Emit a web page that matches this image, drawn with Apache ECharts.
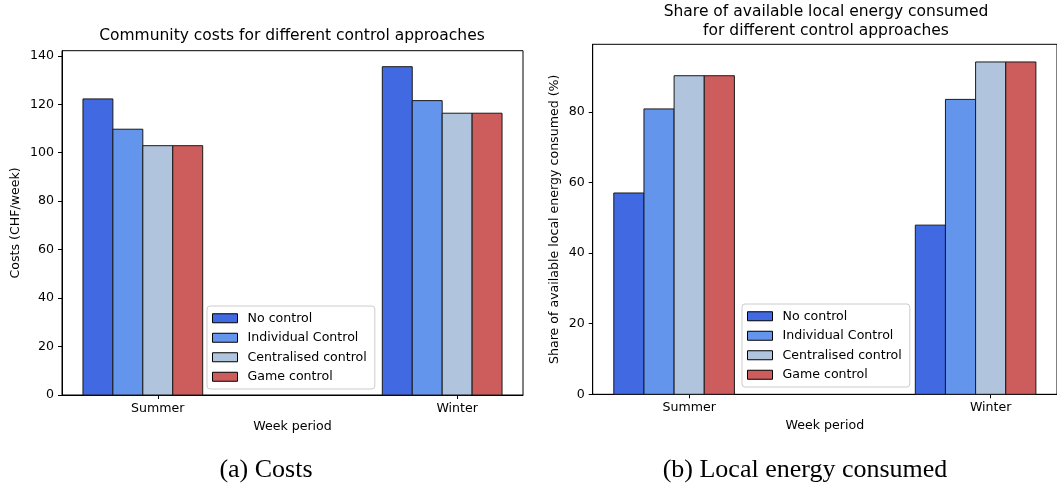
<!DOCTYPE html>
<html>
<head>
<meta charset="utf-8">
<title>Control approaches: costs and local energy consumed</title>
<script src="https://cdn.jsdelivr.net/npm/echarts@6/dist/echarts.min.js"></script>
<style>
  html, body { margin: 0; padding: 0; background: #fff; }
  #chart { width: 1057px; height: 487px; }
</style>
</head>
<body>
<div id="chart"></div>
<script>
// Week periods on the x axis
const periods = ['Summer', 'Winter'];

// Control approaches (one bar per approach within each period)
const controls = ['No control', 'Individual Control', 'Centralised control', 'Game control'];
const controlColors = ['#4169E1', '#6495ED', '#B0C4DE', '#CD5C5C'];

// (a) Community costs, CHF/week  [Summer, Winter]
const costNoControl = [122.2, 135.5];
const costIndividual = [109.7, 121.5];
const costCentralised = [102.9, 116.3];
const costGame = [102.9, 116.3];

// (b) Share of available local energy consumed, %  [Summer, Winter]
const shareNoControl = [57.0, 47.9];
const shareIndividual = [80.8, 83.5];
const shareCentralised = [90.2, 94.1];
const shareGame = [90.2, 94.1];

// Tick labels
const costTicks = [0, 20, 40, 60, 80, 100, 120, 140];
const shareTicks = [0, 20, 40, 60, 80];

const costSeries = [costNoControl, costIndividual, costCentralised, costGame];
const shareSeries = [shareNoControl, shareIndividual, shareCentralised, shareGame];

const FONT = 'DejaVu Sans';
const TICK_SIZE = 12.6;
const BAR_W = 0.1;           // bar width in period units
const periodIdx = periods.map((_, i) => i);

function barSeries(values, s, gridIdx) {
  const offset = (s - 2) * BAR_W;  // third bar sits on the period tick
  return {
    type: 'custom',
    name: controls[s],
    xAxisIndex: gridIdx,
    yAxisIndex: gridIdx,
    itemStyle: { color: controlColors[s], borderColor: '#000', borderWidth: 1 },
    data: values.map((v, i) => [periodIdx[i] + offset, v]),
    renderItem: function (params, api) {
      const x = api.value(0), y = api.value(1);
      const tl = api.coord([x - BAR_W / 2, y]);
      const br = api.coord([x + BAR_W / 2, 0]);
      return {
        type: 'rect',
        shape: { x: tl[0], y: tl[1], width: br[0] - tl[0], height: br[1] - tl[1] },
        style: { fill: controlColors[s], stroke: '#1a1a1a', lineWidth: 1 }
      };
    }
  };
}

function xAxisFor(gridIdx) {
  return {
    type: 'value', gridIndex: gridIdx, min: -0.32, max: 1.22,
    name: 'Week period', nameLocation: 'middle', nameGap: 25,
    nameTextStyle: { fontFamily: FONT, fontSize: TICK_SIZE, color: '#000' },
    axisLine: { show: true, onZero: false, lineStyle: { color: '#000', width: 1 } },
    axisTick: { show: true, length: 4, lineStyle: { color: '#000' }, customValues: periodIdx },
    axisLabel: {
      show: true, margin: 7, fontFamily: FONT, fontSize: TICK_SIZE, color: '#000',
      customValues: periodIdx, formatter: v => periods[Math.round(v)]
    },
    splitLine: { show: false }
  };
}

function yAxisFor(gridIdx, max, ticks, name, gap) {
  return {
    type: 'value', gridIndex: gridIdx, min: 0, max: max,
    name: name, nameLocation: 'middle', nameGap: gap,
    nameTextStyle: { fontFamily: FONT, fontSize: TICK_SIZE, color: '#000' },
    axisLine: { show: true, onZero: false, lineStyle: { color: '#000', width: 1 } },
    axisTick: { show: true, length: 4, lineStyle: { color: '#000' }, customValues: ticks },
    axisLabel: { show: true, margin: 8, fontFamily: FONT, fontSize: TICK_SIZE, color: '#000', customValues: ticks },
    splitLine: { show: false }
  };
}

function legendFor(left, top) {
  return {
    orient: 'vertical', left: left, top: top,
    data: controls.map((c, s) => ({
      name: c, icon: 'rect',
      itemStyle: { color: controlColors[s], borderColor: '#000', borderWidth: 1 }
    })),
    itemWidth: 25, itemHeight: 9, itemGap: 5,
    padding: [5, 8, 5, 5],
    backgroundColor: 'rgba(255,255,255,0.8)',
    borderColor: '#cccccc', borderWidth: 1, borderRadius: 3,
    textStyle: { fontFamily: FONT, fontSize: TICK_SIZE, color: '#000', lineHeight: 14.5, padding: [0, 0, 0, 5] },
    selectedMode: false
  };
}

const titleStyle = { fontFamily: FONT, fontSize: 15.5, fontWeight: 'normal', color: '#000' };
const captionStyle = { fontFamily: 'Liberation Serif', fontSize: 26, fontWeight: 'normal', color: '#000', lineHeight: 26 };

const chart = echarts.init(document.getElementById('chart'), null, { renderer: 'canvas' });
chart.setOption({
  animation: false,
  backgroundColor: '#fff',
  title: [
    { text: 'Community costs for different control approaches', left: 292, top: 27, textAlign: 'center', padding: 0,
      textStyle: Object.assign({ lineHeight: 18 }, titleStyle) },
    { text: 'Share of available local energy consumed\nfor different control approaches', left: 826, top: 2, textAlign: 'center', padding: 0,
      textStyle: Object.assign({ lineHeight: 19.5 }, titleStyle) },
    { text: '(a) Costs', left: 266, top: 457, textAlign: 'center', padding: 0, textStyle: captionStyle },
    { text: '(b) Local energy consumed', left: 805, top: 457, textAlign: 'center', padding: 0, textStyle: captionStyle }
  ],
  grid: [
    { left: 62, top: 50.7, width: 461, height: 344.3, show: true, borderColor: '#000', borderWidth: 1, backgroundColor: 'transparent' },
    { left: 592.7, top: 44.3, width: 468.5, height: 350, show: true, borderColor: '#000', borderWidth: 1, backgroundColor: 'transparent' }
  ],
  xAxis: [xAxisFor(0), xAxisFor(1)],
  yAxis: [
    yAxisFor(0, 142.1, costTicks, 'Costs (CHF/week)', 40),
    yAxisFor(1, 99.1, shareTicks, 'Share of available local energy consumed (%)', 31)
  ],
  legend: [legendFor(207, 306), legendFor(742, 304)],
  series: costSeries.map((v, s) => barSeries(v, s, 0))
    .concat(shareSeries.map((v, s) => barSeries(v, s, 1)))
});
</script>
</body>
</html>
